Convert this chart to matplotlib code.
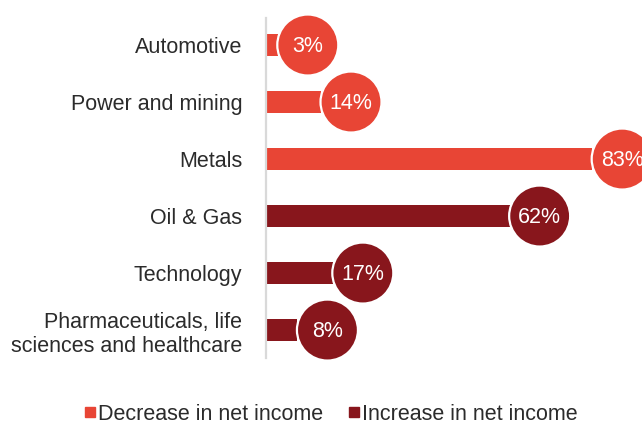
import matplotlib
matplotlib.use("Agg")
import matplotlib.pyplot as plt
import matplotlib.transforms as mtransforms
from matplotlib.lines import Line2D

plt.rcParams['font.family'] = ['Liberation Sans', 'DejaVu Sans']

categories = ["Automotive", "Power and mining", "Metals", "Oil & Gas",
              "Technology", "Pharmaceuticals, life\nsciences and healthcare"]
values = [3, 14, 83, 62, 17, 8]
groups = ["Decrease", "Decrease", "Decrease", "Increase", "Increase", "Increase"]
legend_labels = ["Decrease in net income", "Increase in net income"]

colors = {"Decrease": "#E84535", "Increase": "#88161C"}
text_color = "#2B2B2B"
fs = 15.5

fig = plt.figure(figsize=(6.42, 4.24), dpi=100)
ax = fig.add_axes([266/642, 66/424, (642-266)/642, 340/424])

y = list(range(len(categories)))
bar_colors = [colors[g] for g in groups]
ax.barh(y, values, height=0.40, color=bar_colors, zorder=2)

offset = mtransforms.offset_copy(ax.transData, fig=fig, x=30, y=0, units='dots')
toffset = mtransforms.offset_copy(ax.transData, fig=fig, x=30, y=-1.5, units='dots')
ax.scatter(values, y, s=1930, c=bar_colors, edgecolors='white', linewidths=1.6,
           transform=offset, zorder=3, clip_on=False)
for v, yi in zip(values, y):
    ax.text(v, yi, f"{v}%", transform=toffset, ha='center', va='center',
            color='white', fontsize=fs, zorder=4, clip_on=False)

ax.set_xlim(0, 376/3.93)
ax.set_ylim(5.49, -0.474)
ax.set_yticks(y)
ax.set_yticklabels(categories, fontsize=fs, color=text_color, linespacing=1.2)
ax.tick_params(axis='y', length=0, pad=17)
ax.set_xticks([])
for s in ['top', 'right', 'bottom']:
    ax.spines[s].set_visible(False)
ax.spines['left'].set_color('#D9D9D9')
ax.spines['left'].set_linewidth(1.6)
ax.patch.set_alpha(0)

handles = [Line2D([], [], marker='s', linestyle='', markersize=7.2, color=colors[k])
           for k in ["Decrease", "Increase"]]
fig.legend(handles, legend_labels, loc='center', bbox_to_anchor=(331/642, 1 - 414/424),
           ncol=2, frameon=False, fontsize=fs, handlelength=0.5, handletextpad=0.15,
           columnspacing=1.15, labelcolor=text_color, borderpad=0)

fig.savefig("out.png", dpi=100)
